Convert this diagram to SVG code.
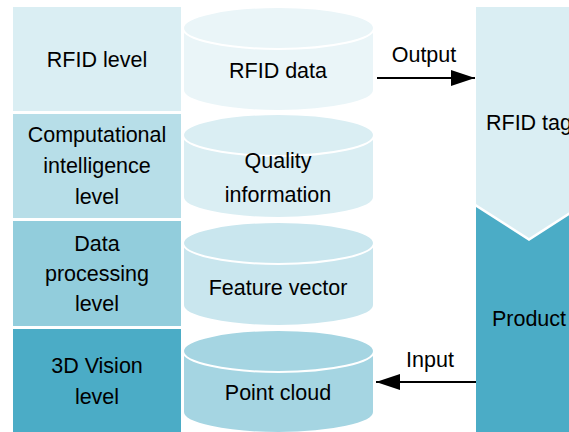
<svg xmlns="http://www.w3.org/2000/svg" width="569" height="432" viewBox="0 0 569 432">
<style>
text{font-family:"Liberation Sans",Arial,sans-serif;font-size:21.5px;fill:#000;text-anchor:middle}
.cyl{stroke:#fff;stroke-width:2}
</style>
<defs>
<marker id="ah2" markerWidth="24" markerHeight="16" refX="24" refY="8" orient="auto" markerUnits="userSpaceOnUse" viewBox="0 0 24 16">
<path d="M0,0 L24,8 L0,16 Z" fill="#000"/>
</marker>
</defs>
<rect width="569" height="432" fill="#fff"/>
<g id="rfid-level"><rect x="13" y="7" width="168" height="104" fill="#DAEEF3"/><text x="97" y="67">RFID level</text></g>
<g id="ci-level"><rect x="13" y="114" width="168" height="104" fill="#B7DEE8"/><text x="97" y="142">Computational</text><text x="97" y="173">intelligence</text><text x="97" y="204">level</text></g>
<g id="dp-level"><rect x="13" y="221" width="168" height="105" fill="#92CDDC"/><text x="97" y="251">Data</text><text x="97" y="281">processing</text><text x="97" y="311">level</text></g>
<g id="vision-level"><rect x="13" y="329" width="168" height="105" fill="#4BACC6"/><text x="97" y="373">3D Vision</text><text x="97" y="404">level</text></g>
<g id="rfid-data"><path class="cyl" fill="#EAF5F8" d="M183,28 L183,90 A95.5,21 0 0 0 374,90 L374,28 A95.5,21 0 0 0 183,28 Z"/><ellipse class="cyl" cx="278.5" cy="28" rx="95.5" ry="21" fill="#EAF5F8"/><text x="278" y="78">RFID data</text></g>
<g id="quality"><path class="cyl" fill="#DAEEF3" d="M183,135 L183,197 A95.5,21 0 0 0 374,197 L374,135 A95.5,21 0 0 0 183,135 Z"/><ellipse class="cyl" cx="278.5" cy="135" rx="95.5" ry="21" fill="#DAEEF3"/><text x="278" y="168">Quality</text><text x="278" y="202">information</text></g>
<g id="feature"><path class="cyl" fill="#C9E6EE" d="M183,243 L183,305 A95.5,21 0 0 0 374,305 L374,243 A95.5,21 0 0 0 183,243 Z"/><ellipse class="cyl" cx="278.5" cy="243" rx="95.5" ry="21" fill="#C9E6EE"/><text x="278" y="295">Feature vector</text></g>
<g id="point-cloud"><path class="cyl" fill="#A5D5E2" d="M183,351 L183,412 A95.5,21 0 0 0 374,412 L374,351 A95.5,21 0 0 0 183,351 Z"/><ellipse class="cyl" cx="278.5" cy="351" rx="95.5" ry="21" fill="#A5D5E2"/><text x="278" y="400">Point cloud</text></g>
<g id="rfid-tag"><path d="M476,7 L582,7 L582,204 L529,238 L476,204 Z" fill="#DAEEF3"/><text x="529" y="130">RFID tag</text></g>
<g id="product"><path d="M476,207 L529,241 L582,207 L582,440 L476,440 Z" fill="#4BACC6"/><text x="529" y="326">Product</text></g>
<g id="connectors">
<line x1="377" y1="78" x2="475" y2="78" stroke="#000" stroke-width="2" marker-end="url(#ah2)"/>
<text x="424" y="62">Output</text>
<line x1="476" y1="382" x2="376" y2="382" stroke="#000" stroke-width="2" marker-end="url(#ah2)"/>
<text x="430" y="367">Input</text>
</g>
</svg>
